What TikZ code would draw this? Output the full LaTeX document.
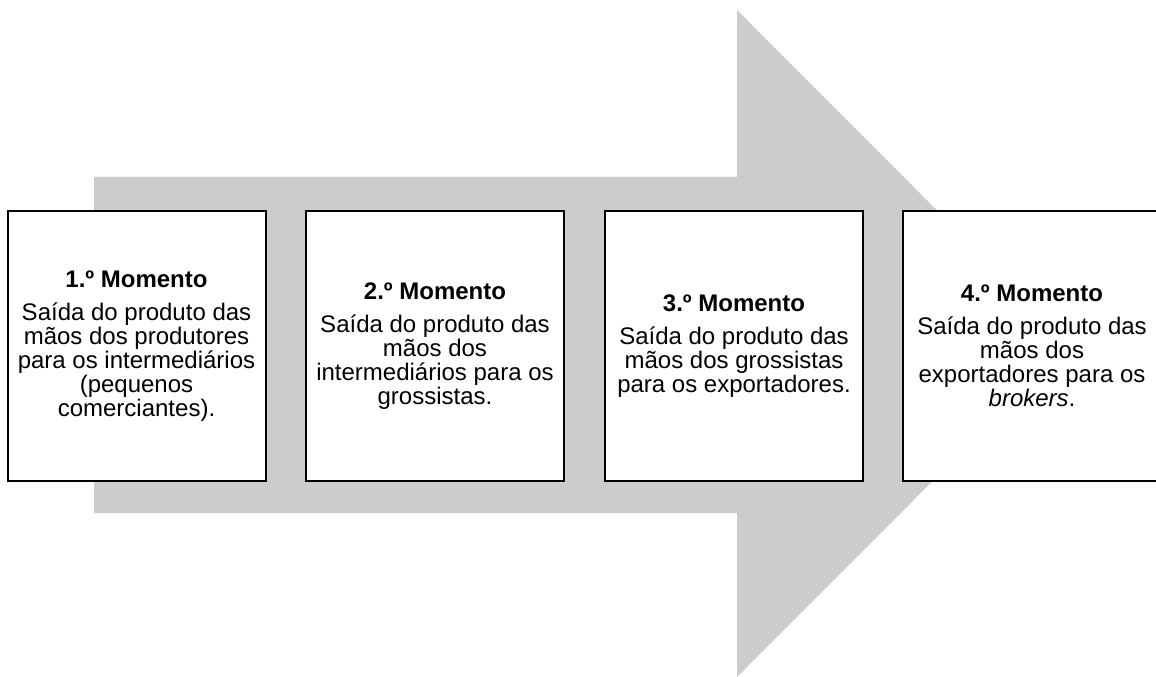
\documentclass[tikz,border=0pt]{standalone}
\usepackage{fontspec}
\setmainfont{Liberation Sans}
\usetikzlibrary{positioning}

\definecolor{setagray}{HTML}{CCCCCC}
\tikzset{
	momento/.style={draw=black, line width=1.5pt, fill=white, minimum width=193.5pt,
		minimum height=202.5pt, align=center, inner sep=0pt,
		font=\fontsize{18}{18}\selectfont},
}
\newcommand{\titulo}[1]{\textbf{#1}\\[6.5pt]}

\begin{document}
\begin{tikzpicture}[x=0.75pt, y=-0.75pt]
		\useasboundingbox (0,0) rectangle (1156,677);
		% seta de fundo
		\fill [setagray] (94,177) -- (737,177) -- (737,10) -- (1070,343.5)
			-- (737,677) -- (737,513) -- (94,513) -- cycle;

		\node [momento] (m1) at (136.5,346) {\titulo{1.º Momento}Saída do produto das\\mãos dos produtores\\para os intermediários\\(pequenos\\comerciantes).};
		\node [momento] (m2) at (435,346) {\titulo{2.º Momento}Saída do produto das\\mãos dos\\intermediários para os\\grossistas.};
		\node [momento] (m3) at (734,346) {\titulo{3.º Momento}Saída do produto das\\mãos dos grossistas\\para os exportadores.};
		\node [momento] (m4) at (1032,346) {\titulo{4.º Momento}Saída do produto das\\mãos dos\\exportadores para os\\\textit{brokers}.};
	\end{tikzpicture}
\end{document}
